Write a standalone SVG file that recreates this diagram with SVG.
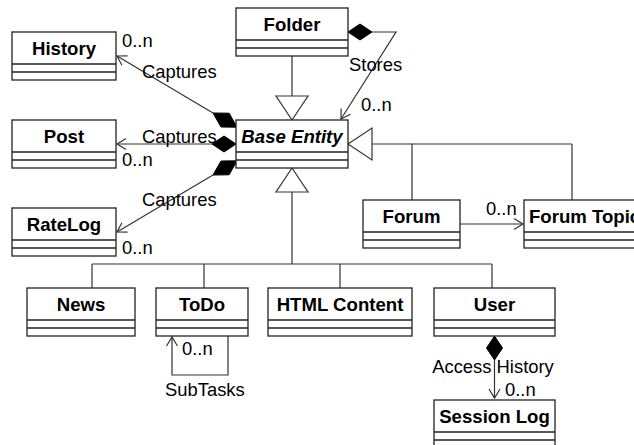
<svg xmlns="http://www.w3.org/2000/svg" width="634" height="445" viewBox="0 0 634 445">
<defs>
<style>
.box{fill:#fff;stroke:#222;stroke-width:1.3}
.div{stroke:#222;stroke-width:1.3}
.ln{fill:none;stroke:#333;stroke-width:1.2}
.tri{fill:#fff;stroke:#333;stroke-width:1.2}
.dia{fill:#000;stroke:#000;stroke-width:1}
.t{font-family:"Liberation Sans",Arial,sans-serif;font-size:18.6px;font-weight:bold;fill:#000;text-anchor:middle}
.ts{font-family:"Liberation Sans",Arial,sans-serif;font-size:18.6px;font-weight:bold;fill:#000;text-anchor:start}
.l{font-family:"Liberation Sans",Arial,sans-serif;font-size:18.4px;fill:#000}
.lm{font-family:"Liberation Sans",Arial,sans-serif;font-size:18.4px;fill:#000;text-anchor:middle}
</style>
<marker id="open" markerUnits="userSpaceOnUse" markerWidth="12" markerHeight="14" refX="10" refY="6" orient="auto" viewBox="0 0 12 12">
<path d="M1,0.5 L10,6 L1,11.5" fill="none" stroke="#333" stroke-width="1.2"/>
</marker>
</defs>

<g id="connectors">
<line class="ln" x1="213" y1="113" x2="117" y2="56" marker-end="url(#open)"/>
<polygon class="dia" points="213,113 229.1,113.2 237.1,127.2 221,127"/>
<line class="ln" x1="212" y1="144" x2="117" y2="144" marker-end="url(#open)"/>
<polygon class="dia" points="212,144 224,136 236,144 224,152"/>
<line class="ln" x1="213" y1="175" x2="117" y2="232" marker-end="url(#open)"/>
<polygon class="dia" points="213,175 229.1,174.8 237.1,160.8 221,161"/>
<polyline class="ln" points="372,32 396,32 341,119" marker-end="url(#open)"/>
<polygon class="dia" points="348,32 360,24 372,32 360,40"/>
<line class="ln" x1="292" y1="56" x2="292" y2="96"/>
<polygon class="tri" points="276,96 308,96 292,120"/>
<polyline class="ln" points="412,200 412,144 372,144"/>
<line class="ln" x1="412" y1="144" x2="572" y2="144"/>
<line class="ln" x1="572" y1="144" x2="572" y2="200"/>
<polygon class="tri" points="372,128 372,160 348,144"/>
<line class="ln" x1="292" y1="192" x2="292" y2="264"/>
<polygon class="tri" points="276,192 308,192 292,168"/>
<line class="ln" x1="92" y1="264" x2="492" y2="264"/>
<line class="ln" x1="92" y1="264" x2="92" y2="288"/>
<line class="ln" x1="204" y1="264" x2="204" y2="288"/>
<line class="ln" x1="340" y1="264" x2="340" y2="288"/>
<line class="ln" x1="492" y1="264" x2="492" y2="288"/>
<line class="ln" x1="460" y1="224" x2="523" y2="224" marker-end="url(#open)"/>
<polyline class="ln" points="228,336 228,375 172,375 172,337" marker-end="url(#open)"/>
<line class="ln" x1="494.5" y1="360" x2="494.5" y2="398" marker-end="url(#open)"/>
<polygon class="dia" points="494.5,336 502.5,348 494.5,360 486.5,348"/>

<text class="l" x="122" y="47">0..n</text>
<text class="l" x="142" y="78">Captures</text>
<text class="l" x="142" y="143">Captures</text>
<text class="l" x="122" y="166">0..n</text>
<text class="l" x="142" y="206">Captures</text>
<text class="l" x="122" y="254">0..n</text>
<text class="l" x="349" y="71">Stores</text>
<text class="l" x="361" y="111">0..n</text>
<text class="l" x="486" y="215">0..n</text>
<text class="l" x="182" y="355">0..n</text>
<text class="l" x="165" y="396">SubTasks</text>
<text class="lm" x="493" y="373">Access History</text>
<text class="l" x="505" y="396">0..n</text>
</g>

<g id="history"><rect class="box" x="12" y="32" width="104" height="48"/><line class="div" x1="12" y1="64" x2="116" y2="64"/><line class="div" x1="12" y1="72" x2="116" y2="72"/><text class="t" x="64" y="55">History</text></g>
<g id="post"><rect class="box" x="12" y="120" width="104" height="48"/><line class="div" x1="12" y1="152" x2="116" y2="152"/><line class="div" x1="12" y1="160" x2="116" y2="160"/><text class="t" x="64" y="143">Post</text></g>
<g id="ratelog"><rect class="box" x="12" y="208" width="104" height="48"/><line class="div" x1="12" y1="240" x2="116" y2="240"/><line class="div" x1="12" y1="248" x2="116" y2="248"/><text class="t" x="64" y="231">RateLog</text></g>
<g id="folder"><rect class="box" x="236" y="8" width="112" height="48"/><line class="div" x1="236" y1="40" x2="348" y2="40"/><line class="div" x1="236" y1="48" x2="348" y2="48"/><text class="t" x="292" y="31">Folder</text></g>
<g id="base-entity"><rect class="box" x="236" y="120" width="112" height="48"/><line class="div" x1="236" y1="152" x2="348" y2="152"/><line class="div" x1="236" y1="160" x2="348" y2="160"/><text class="t" x="292" y="143" font-style="italic">Base Entity</text></g>
<g id="forum"><rect class="box" x="363" y="200" width="97" height="48"/><line class="div" x1="363" y1="232" x2="460" y2="232"/><line class="div" x1="363" y1="240" x2="460" y2="240"/><text class="t" x="411.5" y="223">Forum</text></g>
<g id="forum-topic"><rect class="box" x="524" y="200" width="122" height="48"/><line class="div" x1="524" y1="232" x2="646" y2="232"/><line class="div" x1="524" y1="240" x2="646" y2="240"/><text class="ts" x="529" y="223">Forum Topic</text></g>
<g id="news"><rect class="box" x="27" y="288" width="108" height="48"/><line class="div" x1="27" y1="320" x2="135" y2="320"/><line class="div" x1="27" y1="328" x2="135" y2="328"/><text class="t" x="81" y="311">News</text></g>
<g id="todo"><rect class="box" x="156" y="288" width="92" height="48"/><line class="div" x1="156" y1="320" x2="248" y2="320"/><line class="div" x1="156" y1="328" x2="248" y2="328"/><text class="t" x="202" y="311">ToDo</text></g>
<g id="html-content"><rect class="box" x="268" y="288" width="144" height="48"/><line class="div" x1="268" y1="320" x2="412" y2="320"/><line class="div" x1="268" y1="328" x2="412" y2="328"/><text class="t" x="340" y="311">HTML Content</text></g>
<g id="user"><rect class="box" x="434" y="288" width="121" height="48"/><line class="div" x1="434" y1="320" x2="555" y2="320"/><line class="div" x1="434" y1="328" x2="555" y2="328"/><text class="t" x="494.5" y="311">User</text></g>
<g id="session-log"><rect class="box" x="434" y="400" width="121" height="48"/><line class="div" x1="434" y1="432" x2="555" y2="432"/><line class="div" x1="434" y1="440" x2="555" y2="440"/><text class="t" x="494.5" y="423">Session Log</text></g>
</svg>
